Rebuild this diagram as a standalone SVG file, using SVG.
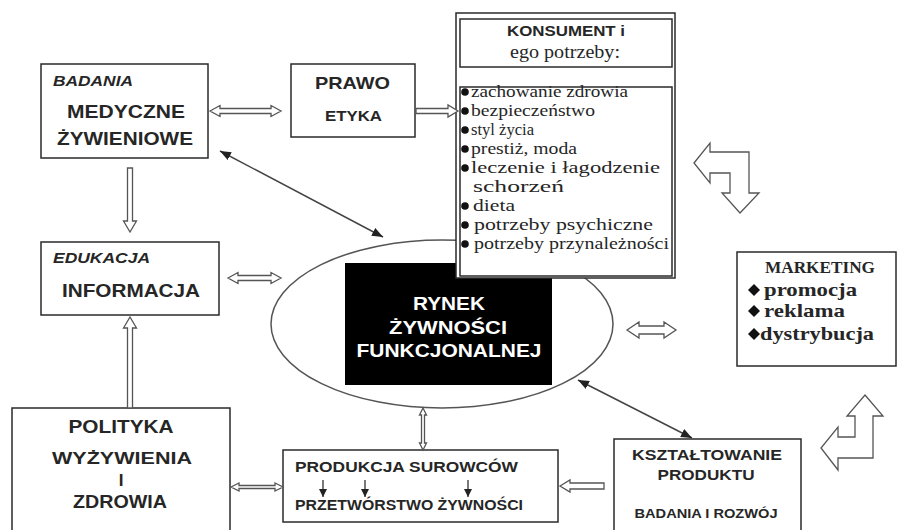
<svg xmlns="http://www.w3.org/2000/svg" width="897" height="530" viewBox="0 0 897 530">
<style>
.box{fill:#fff;stroke:#2a2a2a;stroke-width:1.5}
.sb{font-family:"Liberation Sans",Arial,sans-serif;font-weight:bold;fill:#262626}
.it{font-style:italic}
.sr{font-family:"Liberation Serif","Times New Roman",serif;fill:#262626}
.srb{font-family:"Liberation Serif","Times New Roman",serif;font-weight:bold;fill:#262626}
.hollow{fill:#fff;stroke:#555;stroke-width:1.3;stroke-linejoin:miter}
.diag{stroke:#444;stroke-width:1.5;fill:none;marker-start:url(#head);marker-end:url(#head)}
.small{stroke:#333;stroke-width:1.3;marker-end:url(#sm)}
.wt{font-family:"Liberation Sans",Arial,sans-serif;font-weight:bold;fill:#fff;text-anchor:middle}
</style>
<defs>
<marker id="head" viewBox="0 0 10 8" refX="10" refY="4" markerWidth="11" markerHeight="9" markerUnits="userSpaceOnUse" orient="auto-start-reverse">
<path d="M0,0 L10,4 L0,8 z" fill="#222"/>
</marker>
<marker id="sm" viewBox="0 0 8 8" refX="8" refY="4" markerWidth="8" markerHeight="8" markerUnits="userSpaceOnUse" orient="auto">
<path d="M0,0 L8,4 L0,8 z" fill="#222"/>
</marker>
</defs>
<rect width="897" height="530" fill="#fff"/>

<g id="rynek">
<ellipse cx="442" cy="324" rx="171" ry="84" fill="none" stroke="#555" stroke-width="1.5"/>
<rect x="345" y="263" width="207" height="122" fill="#000"/>
<text class="wt" x="449" y="310" font-size="18" textLength="72" lengthAdjust="spacingAndGlyphs">RYNEK</text>
<text class="wt" x="448" y="334" font-size="18" textLength="118" lengthAdjust="spacingAndGlyphs">ŻYWNOŚCI</text>
<text class="wt" x="449" y="357" font-size="18" textLength="185" lengthAdjust="spacingAndGlyphs">FUNKCJONALNEJ</text>
</g>

<g id="badania">
<rect class="box" x="41" y="64" width="167" height="94"/>
<text class="sb it" x="53" y="86" font-size="15" textLength="80" lengthAdjust="spacingAndGlyphs">BADANIA</text>
<text class="sb" x="67" y="118" font-size="18" textLength="118" lengthAdjust="spacingAndGlyphs">MEDYCZNE</text>
<text class="sb" x="57" y="145" font-size="18" textLength="136" lengthAdjust="spacingAndGlyphs">ŻYWIENIOWE</text>
</g>

<g id="prawo">
<rect class="box" x="291" y="64" width="124" height="73"/>
<text class="sb" x="315" y="89" font-size="17" textLength="75" lengthAdjust="spacingAndGlyphs">PRAWO</text>
<text class="sb" x="325" y="121" font-size="14.5" textLength="57" lengthAdjust="spacingAndGlyphs">ETYKA</text>
</g>

<g id="konsument">
<rect class="box" x="456" y="13" width="219" height="265"/>
<rect class="box" x="460" y="19" width="212" height="48"/>
<text class="sb" x="507" y="36" font-size="15" textLength="118" lengthAdjust="spacingAndGlyphs">KONSUMENT i</text>
<text class="sr" x="510" y="58" font-size="18" textLength="110" lengthAdjust="spacingAndGlyphs">ego potrzeby:</text>
<rect class="box" x="460" y="87" width="212" height="189"/>
<g fill="#111">
<circle cx="465" cy="92" r="3.8"/>
<circle cx="465" cy="111" r="3.8"/>
<circle cx="465" cy="130" r="3.8"/>
<circle cx="465" cy="149" r="3.8"/>
<circle cx="465" cy="168" r="3.8"/>
<circle cx="465" cy="206" r="3.8"/>
<circle cx="465" cy="225" r="3.8"/>
<circle cx="465" cy="244" r="3.8"/>
</g>
<g class="sr" font-size="16.5">
<text x="471" y="97" textLength="157" lengthAdjust="spacingAndGlyphs">zachowanie zdrowia</text>
<text x="471" y="116" textLength="124" lengthAdjust="spacingAndGlyphs">bezpieczeństwo</text>
<text x="471" y="135" textLength="63" lengthAdjust="spacingAndGlyphs">styl życia</text>
<text x="471" y="154" textLength="106" lengthAdjust="spacingAndGlyphs">prestiż, moda</text>
<text x="471" y="173" textLength="189" lengthAdjust="spacingAndGlyphs">leczenie i łagodzenie</text>
<text x="473" y="192" textLength="91" lengthAdjust="spacingAndGlyphs">schorzeń</text>
<text x="473" y="211" textLength="42" lengthAdjust="spacingAndGlyphs">dieta</text>
<text x="474" y="230" textLength="179" lengthAdjust="spacingAndGlyphs">potrzeby psychiczne</text>
<text x="474" y="249" textLength="195" lengthAdjust="spacingAndGlyphs">potrzeby przynależności</text>
</g>
</g>

<g id="edukacja">
<rect class="box" x="41" y="242" width="178" height="73"/>
<text class="sb it" x="53" y="263" font-size="15" textLength="97" lengthAdjust="spacingAndGlyphs">EDUKACJA</text>
<text class="sb" x="62" y="297" font-size="18" textLength="138" lengthAdjust="spacingAndGlyphs">INFORMACJA</text>
</g>

<g id="marketing">
<rect class="box" x="737" y="252" width="159" height="114"/>
<text class="srb" x="820" y="273" font-size="16" text-anchor="middle" textLength="110" lengthAdjust="spacingAndGlyphs">MARKETING</text>
<g fill="#111">
<path d="M754,284 L760,290 L754,296 L748,290 z"/>
<path d="M754,305 L760,311 L754,317 L748,311 z"/>
<path d="M754,328 L760,334 L754,340 L748,334 z"/>
</g>
<text class="srb" x="764" y="296" font-size="19" textLength="93" lengthAdjust="spacingAndGlyphs">promocja</text>
<text class="srb" x="764" y="317" font-size="19" textLength="81" lengthAdjust="spacingAndGlyphs">reklama</text>
<text class="srb" x="760" y="340" font-size="19" textLength="114" lengthAdjust="spacingAndGlyphs">dystrybucja</text>
</g>

<g id="polityka">
<rect class="box" x="12" y="408" width="218" height="130"/>
<text class="sb" x="121" y="433" font-size="18" text-anchor="middle" textLength="105" lengthAdjust="spacingAndGlyphs">POLITYKA</text>
<text class="sb" x="122" y="464" font-size="17" text-anchor="middle" textLength="140" lengthAdjust="spacingAndGlyphs">WYŻYWIENIA</text>
<text class="sb" x="121" y="486" font-size="17" text-anchor="middle">I</text>
<text class="sb" x="120" y="508" font-size="18" text-anchor="middle" textLength="94" lengthAdjust="spacingAndGlyphs">ZDROWIA</text>
</g>

<g id="produkcja">
<rect class="box" x="283" y="450" width="275" height="72"/>
<text class="sb" x="295" y="472" font-size="14.5" textLength="223" lengthAdjust="spacingAndGlyphs">PRODUKCJA SUROWCÓW</text>
<text class="sb" x="295" y="510" font-size="14.5" textLength="228" lengthAdjust="spacingAndGlyphs">PRZETWÓRSTWO ŻYWNOŚCI</text>
<line class="small" x1="323" y1="480" x2="323" y2="497"/>
<line class="small" x1="365" y1="480" x2="365" y2="497"/>
<line class="small" x1="468" y1="480" x2="468" y2="497"/>
</g>

<g id="ksztaltowanie">
<rect class="box" x="614" y="439" width="187" height="100"/>
<text class="sb" x="707" y="460" font-size="15.5" text-anchor="middle" textLength="150" lengthAdjust="spacingAndGlyphs">KSZTAŁTOWANIE</text>
<text class="sb" x="706" y="480" font-size="15.5" text-anchor="middle" textLength="97" lengthAdjust="spacingAndGlyphs">PRODUKTU</text>
<text class="sb" x="706" y="518" font-size="12.5" text-anchor="middle" textLength="143" lengthAdjust="spacingAndGlyphs">BADANIA I ROZWÓJ</text>
</g>

<g id="connectors">
<polygon class="hollow" points="210,111 220,105.5 220,108.5 271,108.5 271,105.5 281,111 271,116.5 271,113.5 220,113.5 220,116.5"/>
<polygon class="hollow" points="416,108.5 448,108.5 448,105 458,111 448,117 448,113.5 416,113.5"/>
<polygon class="hollow" points="127.5,168 132.5,168 132.5,221 136.5,221 130,232 123.5,221 127.5,221"/>
<polygon class="hollow" points="228,278 238,272.5 238,275.5 271,275.5 271,272.5 281,278 271,283.5 271,280.5 238,280.5 238,283.5"/>
<polygon class="hollow" points="130,317 136.5,328 132.5,328 132.5,408 127.5,408 127.5,328 123.5,328"/>
<polygon class="hollow" points="231,487 239,483 239,485.5 275,485.5 275,483 283,487 275,491 275,488.5 239,488.5 239,491"/>
<polygon class="hollow" points="423,408 426.5,415 424.5,415 424.5,443 426.5,443 423,450 419.5,443 421.5,443 421.5,415 419.5,415"/>
<polygon class="hollow" points="560,486 570,480 570,483 604,483 604,489 570,489 570,492"/>
<polygon class="hollow" points="627,330 639,322 639,326 664,326 664,322 676,330 664,338 664,334 639,334 639,338"/>
<polygon class="hollow" points="694,163 710,143 710,152 749,152 749,193 759,193 740,213 722,193 730,193 730,173 710,173 710,183"/>
<polygon class="hollow" points="865,395 883,416 873,416 873,458 838,458 838,470 821,448 838,427 838,437 855,437 855,416 847,416"/>
<line class="diag" x1="220" y1="151" x2="383" y2="237"/>
<line class="diag" x1="578" y1="380" x2="692" y2="438"/>
</g>
</svg>
